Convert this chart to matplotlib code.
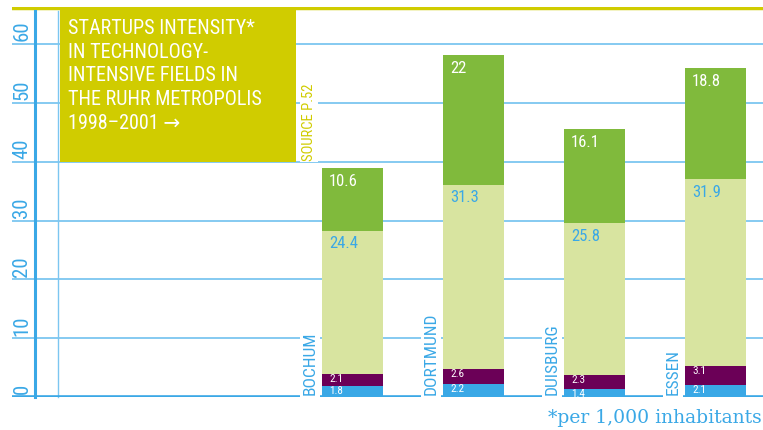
import numpy as np
import matplotlib
matplotlib.use('Agg')
from matplotlib import pyplot as plt

cities = ['BOCHUM', 'DORTMUND', 'DUISBURG', 'ESSEN']
seg_blue = [1.8, 2.2, 1.4, 2.1]
seg_purple = [2.1, 2.6, 2.3, 3.1]
seg_light = [24.4, 31.3, 25.8, 31.9]
seg_green = [10.6, 22, 16.1, 18.8]
yticks = [0, 10, 20, 30, 40, 50, 60]
title = 'STARTUPS INTENSITY*\nIN TECHNOLOGY-\nINTENSIVE FIELDS IN\nTHE RUHR METROPOLIS\n1998\u20132001 \u2192'

BLUE = '#3aa8e6'
GRID = '#7cc6f0'
YELLOW = '#d0cc00'
FONT = ['Roboto Condensed', 'Roboto', 'DejaVu Sans']

fig = plt.figure(figsize=(7.63, 4.31), dpi=100)
W, H = 763, 431
# axes spans pixel x 12..763, y 8..398
ax = fig.add_axes([12 / W, (H - 398) / H, (763 - 12) / W, 390 / H])
ymax = 390 / 5.883
ax.set_ylim(0, ymax)
xmin = -(352.5 - 12) / 121
ax.set_xlim(xmin, xmin + 751 / 121)
ax.axis('off')

x = np.arange(len(cities))
bw = 61 / 121
segments = [(seg_blue, BLUE, 'white', 8), (seg_purple, '#6b0057', 'white', 8),
            (seg_light, '#d8e4a0', BLUE, 12), (seg_green, '#80ba3c', 'white', 12)]
bottom = np.zeros(len(cities))
for vals, col, tcol, fs in segments:
    vals = np.array(vals, dtype=float)
    ax.bar(x, vals, bw, bottom=bottom, color=col, zorder=3, linewidth=0)
    for i in range(len(cities)):
        top = bottom[i] + vals[i]
        off = (0.8 if fs < 10 else -3.5)
        ax.annotate(f'{vals[i]:g}', (x[i] - bw / 2, top), xytext=(5, off),
                    textcoords='offset points', ha='left', va='top',
                    color=tcol, fontsize=fs, family=FONT, zorder=5)
    bottom += vals

# gridlines
for t in yticks[1:]:
    ax.axhline(t, color=GRID, lw=1.3, zorder=1)
ax.axhline(0, color=BLUE, lw=2.6, zorder=4)
ax.axhline(ymax - 0.2, color=YELLOW, lw=2.5, zorder=2)

# vertical axis lines
ax.plot([(35 - 12) / 751] * 2, [0, 0.99], transform=ax.transAxes,
        color=BLUE, lw=2.2, zorder=4, clip_on=False)
ax.plot([(58 - 12) / 751] * 2, [0, 0.99], transform=ax.transAxes,
        color=GRID, lw=1.0, zorder=2, clip_on=False)

# y tick labels
for t in yticks:
    ax.text((22 - 12) / 751, t + 0.6, str(t), transform=ax.get_yaxis_transform(),
            rotation=90, ha='center', va='bottom', color=BLUE, fontsize=15,
            family=FONT, zorder=5)

# title box
x0, x1 = (60 - 12) / 751, (296 - 12) / 751
ax.fill_between([x0, x1], 40, ymax, transform=ax.get_yaxis_transform(),
                color=YELLOW, zorder=6, linewidth=0)
ax.text(x0 + 8 / 751, ymax - 1.8, title, transform=ax.get_yaxis_transform(),
        ha='left', va='top', color='white', fontsize=14.5, family=FONT,
        linespacing=1.33, zorder=7)

# source note
ax.text(-0.343 - 2 / 121, 40.3, 'SOURCE P.52', rotation=90, ha='center', va='bottom',
        color=YELLOW, fontsize=10.5, family=FONT, zorder=5,
        bbox=dict(facecolor='white', edgecolor='none', pad=1.5))

# city labels
for i, c in enumerate(cities):
    ax.text(x[i] - 0.35, 0.5, c, rotation=90, ha='center', va='bottom',
            color=BLUE, fontsize=12.5, family=FONT, zorder=5,
            bbox=dict(facecolor='white', edgecolor='none', pad=2))

fig.text(762 / W, (H - 418) / H, '*per 1,000 inhabitants', ha='right', va='center',
         color=BLUE, fontsize=13.5, family='DejaVu Serif')

fig.savefig('out.png', dpi=100)
